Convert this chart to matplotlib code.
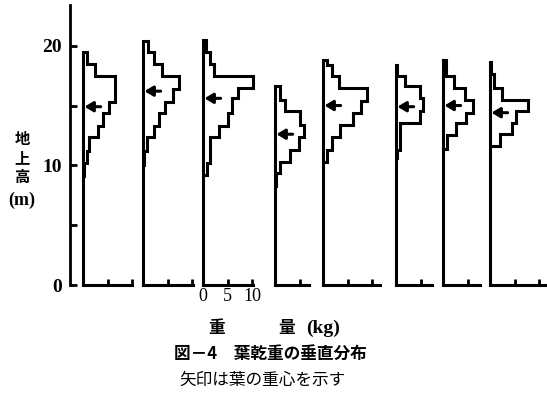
import matplotlib
matplotlib.use("Agg")
import matplotlib.pyplot as plt

# leaf dry weight (kg) per height layer, 8 trees
edges = [
    [9.1, 10.2, 11.2, 12.4, 13.3, 14.4, 15.3, 17.5, 18.5, 19.5],
    [10.0, 11.2, 12.4, 13.3, 14.4, 15.3, 16.4, 17.5, 18.5, 19.5, 20.4],
    [9.2, 10.2, 12.4, 13.3, 14.4, 15.6, 16.5, 17.5, 18.5, 19.5, 20.5],
    [8.3, 9.4, 10.3, 11.3, 12.4, 13.4, 14.5, 15.5, 16.6],
    [10.3, 11.3, 12.4, 13.4, 14.4, 15.4, 16.5, 17.5, 18.4, 18.8],
    [10.6, 11.3, 13.5, 14.5, 15.6, 16.6, 17.5, 18.4],
    [11.4, 12.5, 13.5, 14.4, 15.5, 16.5, 17.5, 18.8],
    [11.6, 12.6, 13.5, 14.5, 15.5, 16.5, 17.6, 18.6],
]
weights = [
    [0.3, 0.8, 1.2, 3.1, 4.1, 5.4, 6.5, 2.5, 0.8],
    [0.3, 0.8, 2.2, 3.2, 4.5, 6.2, 7.3, 3.9, 2.2, 1.1],
    [0.8, 1.4, 3.2, 5.0, 6.0, 7.1, 10.3, 2.3, 1.4, 0.6],
    [0.3, 1.0, 3.0, 4.9, 6.0, 5.0, 2.0, 1.0],
    [0.8, 1.8, 3.5, 6.2, 7.8, 9.0, 3.2, 1.8, 0.9],
    [0.3, 0.8, 4.9, 5.6, 4.9, 1.8, 0.3],
    [0.8, 2.7, 4.6, 6.1, 4.4, 2.2, 0.7],
    [2.0, 4.4, 5.4, 7.8, 2.4, 0.8, 0.3],
]
centers = [14.9, 16.2, 15.6, 12.6, 15.0, 14.9, 15.0, 14.4]
axis_len = [10.1, 10.2, 10.2, 7.0, 11.7, 7.3, 7.5, 11.6]
panel_x = [83, 143, 203, 275, 323, 396, 443, 490]   # pixel left of each panel

W, H = 547, 400
PX_KG = 4.9
YMAX = 23.4
y0, y1 = 285, 5

fig = plt.figure(figsize=(W / 100, H / 100), dpi=100)
serif = "Liberation Serif"
jp = ["Noto Sans CJK JP", "DejaVu Sans"]


def rect(xpix, wpix):
    return [xpix / W, 1 - y0 / H, wpix / W, (y0 - y1) / H]


# main height axis
ax = fig.add_axes(rect(70, 10))
ax.set_ylim(0, YMAX)
ax.set_xlim(0, 1)
for s in ["top", "right", "bottom"]:
    ax.spines[s].set_visible(False)
ax.spines["left"].set_linewidth(2)
ax.set_xticks([])
ax.set_yticks([0, 5, 10, 15, 20])
ax.set_yticklabels(["0", "", "10", "", "20"], fontfamily=serif,
                   fontweight="bold", fontsize=14)
ax.tick_params(axis="y", direction="in", length=5, width=2, pad=6)
ax.patch.set_alpha(0)

for i in range(len(edges)):
    wkg = 14
    a = fig.add_axes(rect(panel_x[i], wkg * PX_KG))
    a.set_xlim(0, wkg)
    a.set_ylim(0, YMAX)
    a.patch.set_alpha(0)
    a.spines["top"].set_visible(False)
    a.spines["right"].set_visible(False)
    for s in ["left", "bottom"]:
        a.spines[s].set_linewidth(2.2)
    a.spines["left"].set_bounds(0, edges[i][-1])
    a.spines["bottom"].set_bounds(0, axis_len[i])
    a.set_yticks([])
    ticks = [t for t in [5, 10] if t <= axis_len[i] + 0.2]
    if i == 2:
        a.set_xticks([0] + ticks)
        a.set_xticklabels(["0", "5", "10"], fontfamily=serif, fontsize=13)
    else:
        a.set_xticks(ticks)
        a.set_xticklabels([])
    a.tick_params(axis="x", direction="in", length=4, width=2, pad=2)
    a.stairs(weights[i], edges[i], orientation="horizontal", baseline=0,
             color="black", linewidth=2.2)
    a.annotate("", xy=(0.3, centers[i]), xytext=(3.6, centers[i]),
               arrowprops=dict(arrowstyle="-|>,head_length=0.5,head_width=0.3",
                               lw=2.2, color="black", shrinkA=0, shrinkB=0))

# y label
for k, ch in enumerate(["地", "上", "高"]):
    fig.text(22 / W, 1 - (139 + k * 19) / H, ch, family=jp, fontsize=11,
             fontweight="bold", ha="center", va="center")
fig.text(22 / W, 1 - 200 / H, "(m)", family=serif, fontsize=13,
         fontweight="bold", ha="center", va="center")

fig.text(217 / W, 1 - 328 / H, "重", family=jp, fontsize=12,
         fontweight="bold", ha="center", va="center")
fig.text(287 / W, 1 - 328 / H, "量", family=jp, fontsize=12,
         fontweight="bold", ha="center", va="center")
fig.text(323 / W, 1 - 328 / H, "(kg)", family=serif, fontsize=14,
         fontweight="bold", ha="center", va="center")
fig.text(270 / W, 1 - 354 / H, "図－4　葉乾重の垂直分布", family=jp,
         fontsize=12, fontweight="bold", ha="center", va="center")
fig.text(262 / W, 1 - 380 / H, "矢印は葉の重心を示す", family=jp,
         fontsize=12, ha="center", va="center")

fig.savefig("out.png", dpi=100)
